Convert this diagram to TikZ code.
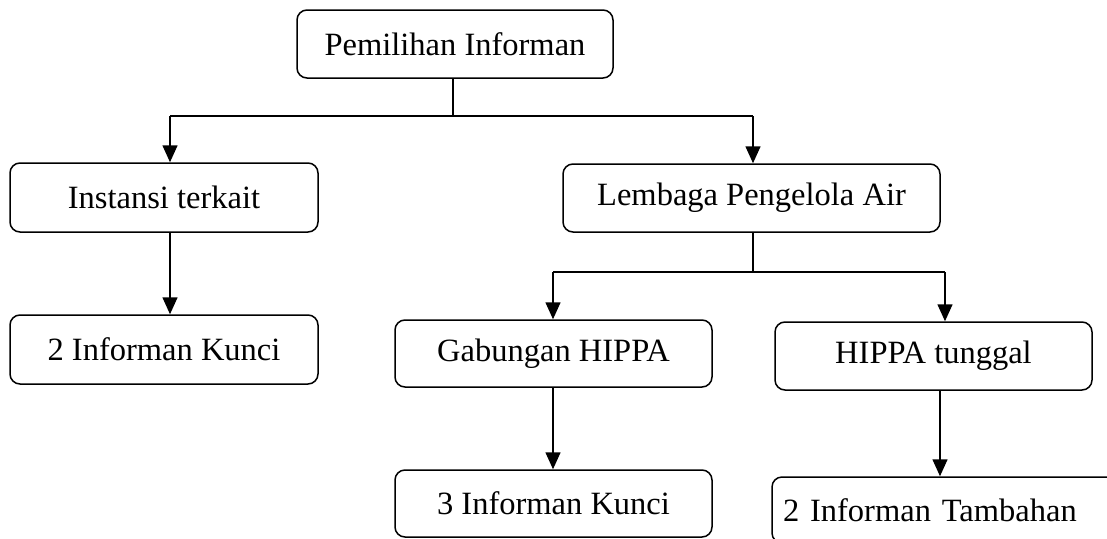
\documentclass[tikz,border=0pt]{standalone}
\usepackage{fontspec}
\setmainfont{Liberation Serif}
\usetikzlibrary{arrows.meta,calc}
\begin{document}
\begin{tikzpicture}[x=1pt,y=-1pt,
  box/.style={draw,line width=1.5pt,rounded corners=10pt,inner sep=0pt,
    font=\fontsize{32.5}{38}\selectfont},
  link/.style={line width=1.5pt},
  arr/.style={line width=1.5pt,-{Triangle[width=15pt,length=17pt]}}]
\useasboundingbox[fill=white] (0,0) rectangle (1107,538);
% boxes
\node[box,minimum width=316pt,minimum height=68pt] (top) at (455,44) {Pemilihan Informan};
\node[box,minimum width=308pt,minimum height=69pt] (inst) at (164,197.5) {Instansi terkait};
\node[box,minimum width=377pt,minimum height=68pt] (lemb) at (751.5,198) {Lembaga Pengelola Air};
\node[box,minimum width=308pt,minimum height=69pt] (k2) at (164,349.5) {2 Informan Kunci};
\node[box,minimum width=317pt,minimum height=67pt] (gab) at (553.5,353.5) {Gabungan HIPPA};
\node[box,minimum width=317pt,minimum height=68pt] (hipt) at (933.5,356) {HIPPA tunggal};
\node[box,minimum width=317pt,minimum height=67pt] (k3) at (553.5,503.5) {3 Informan Kunci};
\node[box,minimum width=353pt,minimum height=66pt,text width=331pt,align=left,inner xsep=11pt] (tamb) at (948.5,510) {2 Informan Tambahan};
% first level
\coordinate (b0) at (453,116);
\coordinate (bL) at (170,116);
\coordinate (bR) at (753,116);
\draw[link] (top.south -| b0) -- (b0);
\draw[link] (bL) -- (bR);
\draw[arr] (bL) -- (bL |- inst.north);
\draw[arr] (bR) -- (bR |- lemb.north);
\draw[arr] (inst.south -| bL) -- (k2.north -| bL);
% second level
\coordinate (c0) at (753,272);
\coordinate (cL) at (553,272);
\coordinate (cR) at (945,272);
\draw[link] (lemb.south -| c0) -- (c0);
\draw[link] (cL) -- (cR);
\draw[arr] (cL) -- (cL |- gab.north);
\draw[arr] (cR) -- (cR |- hipt.north);
\draw[arr] (gab.south -| cL) -- (k3.north -| cL);
\coordinate (dR) at (940,0);
\draw[arr] (hipt.south -| dR) -- (tamb.north -| dR);
\end{tikzpicture}
\end{document}
